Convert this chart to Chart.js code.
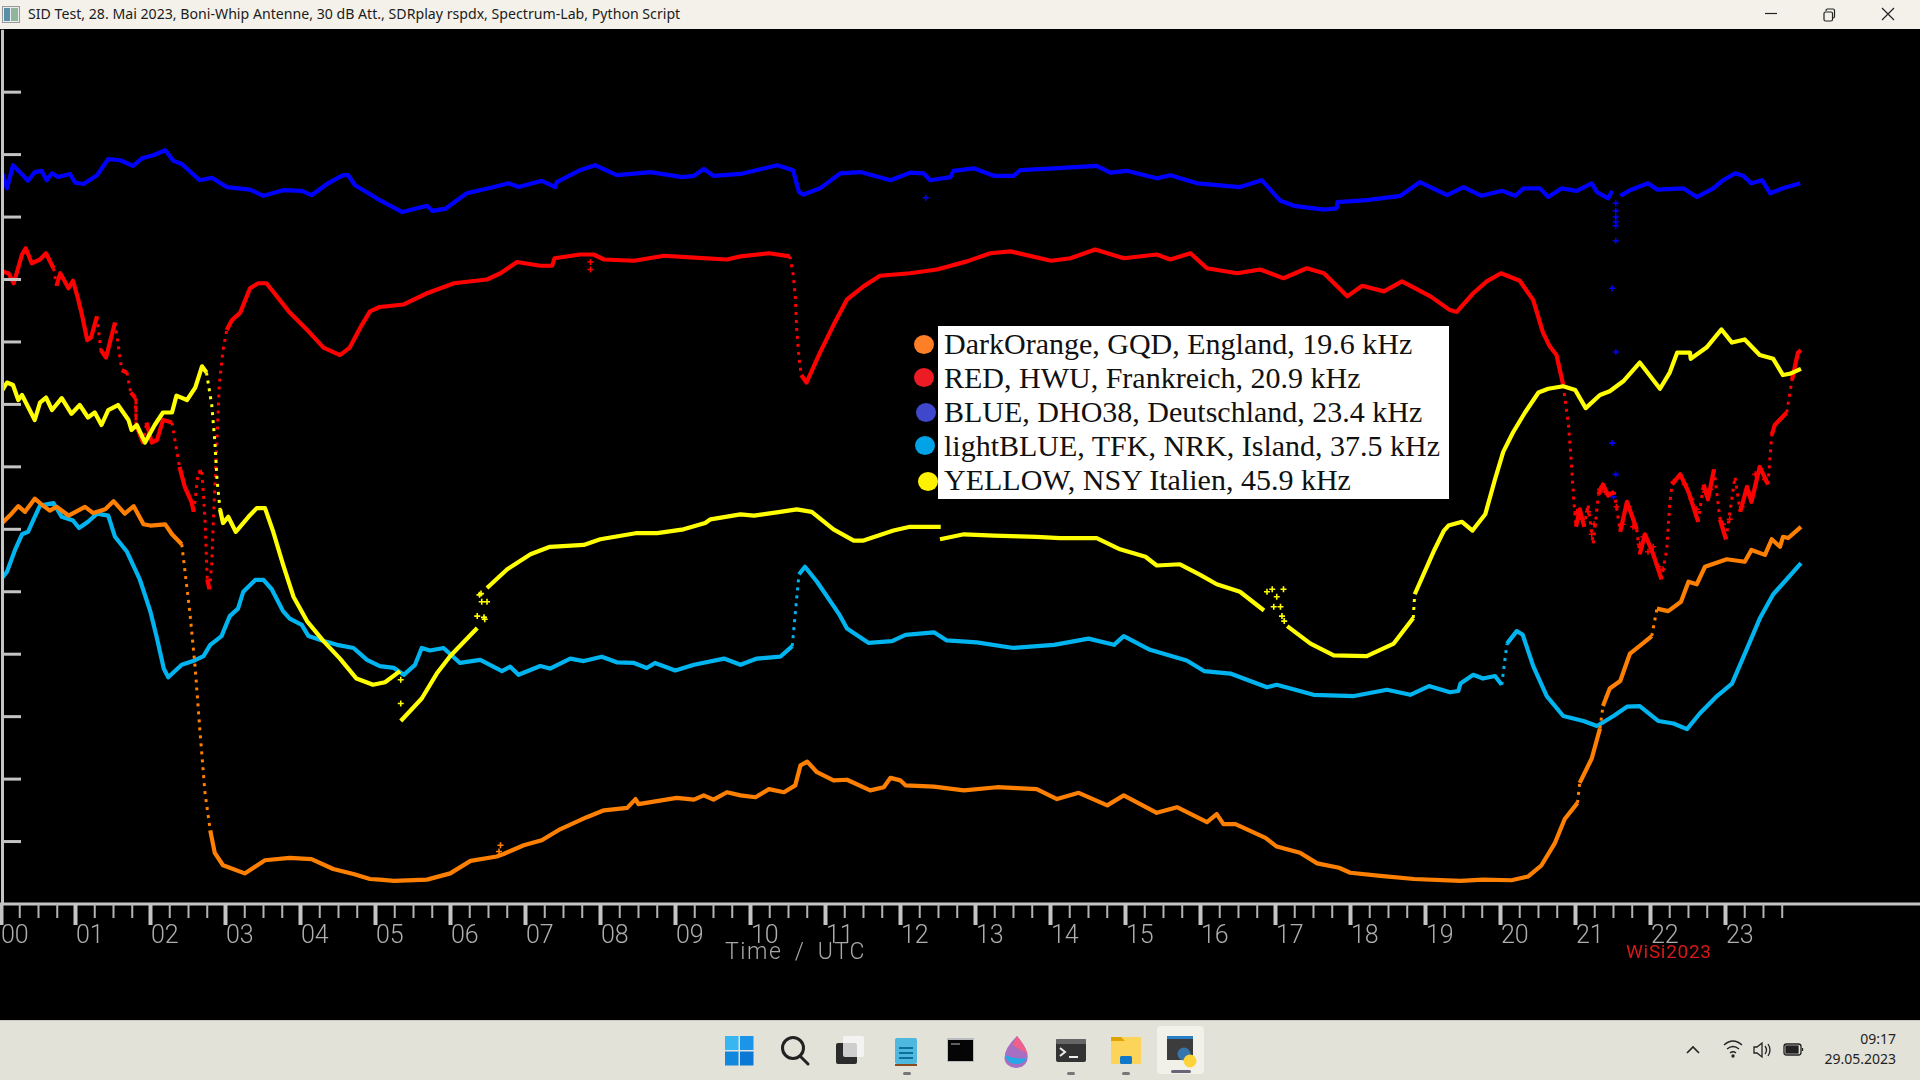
<!DOCTYPE html>
<html><head><meta charset="utf-8"><title>SID Test</title>
<script src="https://cdn.jsdelivr.net/npm/chart.js@4"></script>
<style>
html,body{margin:0;padding:0;width:1920px;height:1080px;background:#000;overflow:hidden}
canvas{position:absolute;left:0;top:0}
.abs{position:absolute;white-space:nowrap}
#titlebar{position:absolute;left:0;top:0;width:1920px;height:29px;background:#f3f1ea}
#titletext{left:28px;top:4px;font:14.15px/20px "Noto Sans",sans-serif;color:#1c1c1c}
#taskbar{position:absolute;left:0;top:1020px;width:1920px;height:60px;background:#e2e2d8;border-top:1px solid #c9c9c0;box-sizing:border-box}
#legendbox{position:absolute;left:938px;top:326px;width:511px;height:173px;background:#fff}
.lt{position:absolute;left:944px;font:30px/34px "Liberation Serif",serif;color:#111;white-space:nowrap}
.ld{position:absolute;width:20px;height:19px;border-radius:50%}
#axtitle{left:725px;top:938px;font:300 23px/28px Roboto,sans-serif;letter-spacing:1.6px;word-spacing:5px;color:#a8a8a8}
#wisi{left:1626px;top:941px;font:400 19px/22px Roboto,sans-serif;letter-spacing:.7px;color:#d81818}
#clock{position:absolute;right:24px;top:1029px;text-align:right;font:14px/20px "Noto Sans",sans-serif;color:#222}
svg.ic{position:absolute}
</style></head><body>
<canvas id="c" width="1920" height="1080"></canvas>
<div id="legendbox"></div>
<div class="abs" id="axtitle">Time / UTC</div>
<div class="abs" id="wisi">WiSi2023</div>
<div id="titlebar">
<svg class="ic" style="left:2px;top:6px" width="18" height="17"><rect x=".5" y=".5" width="17" height="16" fill="#e8eef0" stroke="#999"/><rect x="2" y="2" width="6" height="13" fill="#5a8fa8"/><rect x="9" y="2" width="7" height="13" fill="#8fb59a"/></svg>
<div class="abs" id="titletext">SID Test, 28. Mai 2023, Boni-Whip Antenne, 30 dB Att., SDRplay rspdx, Spectrum-Lab, Python Script</div>
<svg class="ic" style="left:1760px;top:4px" width="140" height="22" fill="none" stroke="#222" stroke-width="1.2"><path d="M5 9.5H17"/><rect x="64" y="8" width="8.5" height="9" rx="1.5"/><path d="M66 7V6.5q0-1.500 1.500-1.500h5.500q1.500 0 1.500 1.500v6q0 1.500-1.500 1.500"/><path d="M122 4L134 16M134 4L122 16"/></svg>
</div>
<div id="taskbar"></div>
<svg class="ic" style="left:0;top:1020px" width="1920" height="60">
<g><rect x="725" y="16" width="13.500" height="14" fill="#37b6f2"/><rect x="740" y="16" width="13.500" height="14" fill="#1c95e8"/><rect x="725" y="31.500" width="13.500" height="14" fill="#1187dd"/><rect x="740" y="31.500" width="13.500" height="14" fill="#0a78d4"/></g>
<g fill="none" stroke="#222" stroke-width="3"><circle cx="793" cy="28" r="10.500"/><path d="M800 36L808 44" stroke-linecap="round"/></g>
<g><rect x="836" y="23" width="21" height="21" rx="2" fill="#2b2b2b"/><rect x="843" y="16" width="21" height="21" rx="2" fill="#f7f7f7" opacity=".8"/></g>
<g><rect x="895" y="18" width="22" height="26" rx="2" fill="#4fb8de"/><rect x="895" y="44" width="22" height="2" fill="#8a4b1f"/><path d="M899 28H913M899 33H913M899 38H913" stroke="#0f6f9c" stroke-width="2"/><rect x="903" y="52" width="8" height="3" rx="1.500" fill="#777"/></g>
<g><rect x="947" y="18" width="27" height="24" fill="#b8bcc0"/><rect x="948" y="20" width="25" height="21" fill="#050505"/><path d="M951 24H960" stroke="#bbb"/></g>
<path d="M1017 16q12 14 10.500 22a11.500 10 0 0 1-23 0q0-10 12.500-22z" fill="#a76fc2"/><path d="M1005 35a11.500 10 0 0 0 22 3q-10 2-22-3z" fill="#25a8e8"/><path d="M1017 16q8 10 10.500 18q-10-6-15-9z" fill="#f0608a"/>
<g><rect x="1056" y="19" width="30" height="23" rx="2" fill="#333"/><rect x="1056" y="19" width="30" height="5" rx="1" fill="#666"/><path d="M1060 28l5 4-5 4" stroke="#eee" stroke-width="2" fill="none"/><path d="M1069 37H1078" stroke="#eee" stroke-width="2"/><rect x="1067" y="52" width="8" height="3" rx="1.500" fill="#777"/></g>
<g><rect x="1111" y="17" width="30" height="27" rx="1" fill="#fcd45a"/><path d="M1111 17h10l4 4h-14z" fill="#e0a400"/><rect x="1120" y="36" width="12" height="8" rx="1.500" fill="#0f78c8"/><rect x="1122" y="52" width="8" height="3" rx="1.500" fill="#777"/></g>
<g><rect x="1157" y="6" width="47" height="48" rx="4" fill="#f1f1ea"/><rect x="1167" y="16" width="26" height="24" fill="#3c3c3c"/><rect x="1167" y="16" width="26" height="3" fill="#2a7fc4"/><circle cx="1184" cy="34" r="6.500" fill="#3776ab"/><circle cx="1190" cy="41" r="6.500" fill="#ffd43b"/><rect x="1171" y="50" width="20" height="3" rx="1.500" fill="#667"/></g>
<path d="M1687 33l6-6 6 6" fill="none" stroke="#222" stroke-width="1.600"/>
<g fill="none" stroke="#222" stroke-width="1.300"><path d="M1724 25q9-8 18 0M1727 29q6-5 12 0M1730 33q3-2.500 6 0"/><circle cx="1733" cy="36" r="1" fill="#222"/><path d="M1754 27h3l5-4v14l-5-4h-3zM1765 26q3 4 0 8M1768 24q4 6 0 12"/><rect x="1784" y="24" width="17" height="11" rx="2.500"/><rect x="1786" y="26" width="12" height="7" fill="#222"/><path d="M1802.500 28v3"/></g>
</svg>
<div id="clock">09:17<br>29.05.2023</div>
<script>
const hourLabels = ['00','01','02','03','04','05','06','07','08','09','10','11','12','13','14','15','16','17','18','19','20','21','22','23'];
const legendLabels = ['DarkOrange, GQD, England, 19.6 kHz','RED, HWU, Frankreich, 20.9 kHz','BLUE, DHO38, Deutschland, 23.4 kHz','lightBLUE, TFK, NRK, Island, 37.5 kHz','YELLOW, NSY Italien, 45.9 kHz'];
const legendDotColors = ['#ff7f27','#ed1c24','#3f48cc','#00a2e8','#fff200'];

const blueHours = [.01,.08,.16,.25,.36,.45,.54,.61,.68,.76,.92,.99,1.10,1.28,1.43,1.59,1.76,1.88,2.03,2.19,2.30,2.41,2.65,2.81,3.01,3.32,3.50,3.76,4.01,4.14,4.36,4.56,4.63,4.72,4.90,5.05,5.35,5.68,5.75,5.92,6.21,6.50,6.77,6.90,7.21,7.39,7.41,7.72,7.92,8.21,8.66,9.08,9.24,9.37,9.50,9.86,10.35,10.56,10.59,10.64,10.70,10.92,11.19,11.46,11.86,12.12,12.30,12.39,12.66,12.70,12.97,13.24,13.50,13.59,14.04,14.61,14.79,15.01,15.41,15.59,15.95,16.52,16.81,17.06,17.24,17.64,17.81,17.82,18.21,18.66,18.92,19.28,19.50,19.74,20.01,20.19,20.30,20.52,20.63,20.81,21.01,21.21,21.28,21.43,21.48,21.53,21.59,21.72,21.96,22.08,22.43,22.61,22.83,22.96,23.12,23.23,23.34,23.48,23.59,23.76,23.99];
const blueValues = [11.72,11.46,11.83,11.72,11.58,11.72,11.74,11.59,11.70,11.64,11.69,11.55,11.53,11.67,11.93,11.91,11.82,11.94,11.99,12.07,11.90,11.85,11.59,11.63,11.48,11.44,11.34,11.43,11.42,11.35,11.54,11.67,11.67,11.51,11.38,11.27,11.08,11.18,11.10,11.13,11.38,11.46,11.54,11.48,11.58,11.48,11.56,11.75,11.83,11.67,11.72,11.64,11.66,11.77,11.66,11.69,11.83,11.75,11.62,11.40,11.36,11.46,11.70,11.72,11.59,11.71,11.70,11.59,11.64,11.74,11.78,11.66,11.66,11.75,11.78,11.82,11.71,11.74,11.62,11.67,11.54,11.48,11.59,11.26,11.18,11.12,11.14,11.24,11.27,11.34,11.56,11.35,11.48,11.34,11.42,11.34,11.46,11.46,11.32,11.46,11.42,11.54,11.40,11.30,11.42,null,11.34,11.43,11.54,11.44,11.46,11.32,11.46,11.59,11.70,11.66,11.54,11.59,11.38,11.46,11.54];
const blueStrayHours = [12.33,21.53,21.53,21.53,21.53,21.53,21.53,21.48,21.53,21.48,21.53,21.50];
const blueStrayValues = [11.31,11.22,11.10,11.00,10.92,10.86,10.62,9.86,8.84,7.38,6.88,6.52];

const redHours = [.01,.10,.17,.28,.33,.41,.52,.60,.70,.74,.79,.90,.96,1.03,1.08,1.15,1.20,1.28,1.33,1.40,1.52,1.61,1.68,1.73,1.79,1.80,1.90,1.94,2.01,2.08,2.16,2.28,2.33,2.38,2.45,2.54,2.57,2.63,2.68,2.72,2.75,2.78,2.81,2.83,2.85,2.88,2.91,2.96,3.01,3.08,3.19,3.32,3.43,3.54,3.85,4.10,4.30,4.52,4.65,4.81,4.92,5.05,5.37,5.68,6.04,6.48,6.66,6.88,7.19,7.35,7.38,7.72,7.90,8.04,8.44,8.84,9.24,9.68,9.86,10.24,10.52,10.56,10.59,10.61,10.64,10.67,10.74,10.92,11.10,11.28,11.50,11.72,12.12,12.48,12.88,13.19,13.46,14.00,14.26,14.59,14.97,15.41,15.59,15.86,16.08,16.48,16.79,17.10,17.41,17.64,17.95,18.15,18.44,18.68,19.06,19.32,19.41,19.63,19.81,20.00,20.25,20.43,20.56,20.65,20.74,20.83,20.90,20.94,20.97,21.00,21.05,21.11,21.16,21.23,21.30,21.36,21.43,21.51,21.59,21.68,21.81,21.85,21.92,22.03,22.14,22.21,22.25,22.28,22.39,22.50,22.63,22.70,22.76,22.84,22.92,23.00,23.12,23.19,23.28,23.34,23.45,23.56,23.61,23.65,23.81,23.88,23.96,24.00];
const redValues = [10.13,10.10,9.94,10.40,10.50,10.26,10.32,10.42,10.18,9.90,10.10,9.86,9.98,9.68,9.43,9.03,9.07,9.41,8.87,8.75,9.31,8.55,8.51,8.19,8.11,7.67,7.37,7.71,7.39,7.43,7.75,7.71,7.35,7.00,6.68,6.44,6.28,6.92,6.92,6.16,5.20,5.04,5.44,6.08,6.64,7.43,8.31,8.87,9.19,9.35,9.47,9.86,9.94,9.94,9.47,9.17,8.91,8.79,8.91,9.27,9.49,9.56,9.60,9.78,9.94,10.00,10.10,10.28,10.22,10.22,10.34,10.40,10.40,10.32,10.30,10.38,10.35,10.32,10.37,10.42,10.37,10.10,9.75,9.19,8.75,8.47,8.35,8.83,9.27,9.68,9.89,10.06,10.10,10.16,10.29,10.42,10.45,10.30,10.34,10.48,10.34,10.40,10.32,10.42,10.18,10.10,10.16,10.02,10.18,10.10,9.73,9.90,9.81,9.97,9.73,9.51,9.48,9.78,9.97,10.10,9.98,9.67,9.15,8.93,8.79,8.31,7.67,7.04,6.48,6.04,6.32,6.04,6.40,5.76,6.56,6.72,6.54,6.60,5.96,6.44,6.00,5.60,5.92,5.60,5.20,5.68,6.40,6.72,6.88,6.60,6.12,6.72,6.48,6.96,6.16,5.84,6.84,6.28,6.68,6.44,7.00,6.72,7.51,7.67,7.87,8.39,8.83,8.87];
const redStrayHours = [7.86,7.86,21.01,21.08,21.16,21.21,21.24,21.32,21.39,21.54,21.62,21.70,21.76,21.85,21.90,21.96,22.03,22.10,22.16,22.30,22.45,22.54,22.61,22.72,22.79,22.96,23.05,23.21,23.32,23.39,23.52];
const redStrayValues = [10.28,10.16,6.28,6.16,6.28,5.92,6.08,6.64,6.60,6.36,6.08,6.36,6.04,5.76,5.88,5.64,5.72,5.40,5.36,6.76,6.72,6.48,6.32,6.60,6.64,6.08,6.16,6.36,6.56,6.88,6.80];

const yellowHours = [0,.08,.16,.23,.28,.45,.52,.60,.68,.81,.94,1.05,1.16,1.25,1.34,1.43,1.56,1.70,1.74,1.81,1.92,2.05,2.16,2.28,2.34,2.48,2.59,2.68,2.74,2.81,2.85,2.88,2.92,2.96,3.03,3.13,3.30,3.41,3.52,3.63,3.76,3.90,4.08,4.30,4.52,4.74,4.96,5.12,5.32,5.325,5.33,5.61,5.81,5.99,6.35,6.40,6.48,6.75,7.06,7.32,7.77,7.99,8.48,8.75,9.10,9.39,9.46,9.86,10.04,10.39,10.61,10.81,11.10,11.37,11.50,11.90,12.12,12.53,12.525,12.52,12.84,13.24,13.81,14.12,14.61,14.92,15.26,15.41,15.72,15.99,16.21,16.52,16.84,16.90,17.15,17.46,17.77,18.21,18.57,18.83,18.85,19.10,19.24,19.30,19.48,19.62,19.79,19.92,20.03,20.16,20.32,20.50,20.63,20.83,20.99,21.13,21.32,21.45,21.63,21.85,22.12,22.25,22.35,22.52,22.53,22.74,22.94,23.08,23.25,23.45,23.63,23.76,23.85,24.00];
const yellowValues = [8.19,8.35,8.31,8.07,8.15,7.75,8.03,8.11,7.91,8.10,7.85,7.99,7.79,7.87,7.67,7.91,7.99,7.75,7.59,7.67,7.39,7.67,7.87,7.87,8.14,8.07,8.27,8.61,8.51,7.99,7.43,6.80,6.32,6.10,6.20,5.96,6.20,6.34,6.34,5.96,5.44,4.92,4.53,4.21,3.93,3.61,3.51,3.55,3.73,null,2.93,3.29,3.69,3.97,4.42,null,5.06,5.36,5.60,5.72,5.75,5.84,5.94,5.94,6.00,6.10,6.16,6.24,6.22,6.28,6.32,6.28,6.00,5.82,5.82,5.98,6.04,6.04,null,5.84,5.92,5.90,5.88,5.86,5.86,5.68,5.56,5.42,5.44,5.27,5.12,5.00,4.70,null,4.45,4.17,3.98,3.97,4.17,4.58,4.96,5.64,5.98,6.06,6.12,5.98,6.24,6.80,7.24,7.55,7.87,8.19,8.25,8.29,8.23,7.94,8.15,8.21,8.37,8.67,8.25,8.51,8.83,8.83,8.73,8.91,9.20,8.99,9.04,8.79,8.73,8.47,8.49,8.57];
const yellowStrayHours = [5.33,5.33,6.35,6.44,6.45,6.38,6.40,6.48,6.41,16.88,16.95,17.01,17.10,16.97,17.06,17.08,17.11];
const yellowStrayValues = [3.59,3.21,4.61,4.59,4.56,4.95,4.97,4.84,4.84,5.00,5.04,4.92,5.04,4.76,4.76,4.61,4.53];

const lightBlueHours = [0,.08,.19,.28,.36,.45,.52,.70,.81,.96,1.04,1.16,1.28,1.43,1.52,1.68,1.85,1.99,2.08,2.17,2.23,2.41,2.56,2.70,2.79,2.94,3.05,3.16,3.23,3.39,3.50,3.61,3.76,3.85,4.01,4.10,4.28,4.48,4.70,4.88,5.05,5.24,5.37,5.52,5.61,5.72,5.90,6.12,6.39,6.68,6.79,6.90,7.19,7.32,7.59,7.77,8.01,8.21,8.44,8.61,8.72,8.99,9.24,9.64,9.86,10.08,10.39,10.55,10.59,10.64,10.72,10.88,11.17,11.28,11.57,11.88,12.06,12.44,12.61,13.01,13.50,14.04,14.50,14.84,14.97,15.32,15.81,16.04,16.39,16.88,17.01,17.50,18.04,18.48,18.79,19.04,19.32,19.43,19.46,19.63,19.76,19.92,20.01,20.08,20.21,20.29,20.43,20.61,20.83,21.10,21.28,21.50,21.68,21.85,22.10,22.30,22.48,22.65,22.88,23.08,23.28,23.45,23.63,23.81,24.00];
const lightBlueValues = [5.20,5.32,5.68,5.92,5.96,6.20,6.38,6.42,6.20,6.14,6.02,6.12,6.25,6.22,5.88,5.64,5.20,4.69,4.25,3.77,3.63,3.83,3.89,3.97,4.15,4.29,4.61,4.73,5.00,5.19,5.19,5.04,4.69,4.57,4.47,4.29,4.22,4.15,4.10,3.91,3.81,3.78,3.67,3.83,4.10,4.06,4.10,3.86,3.91,3.73,3.80,3.67,3.81,3.77,3.93,3.89,3.96,3.87,3.86,3.78,3.86,3.74,3.83,3.93,3.83,3.93,3.96,4.13,4.65,5.28,5.40,5.16,4.65,4.41,4.18,4.21,4.31,4.35,4.22,4.19,4.10,4.15,4.25,4.15,4.29,4.07,3.90,3.73,3.69,3.47,3.51,3.35,3.33,3.43,3.35,3.49,3.39,3.41,3.53,3.67,3.61,3.65,3.51,4.17,4.37,4.31,3.81,3.33,3.01,2.93,2.85,3.01,3.16,3.17,2.93,2.89,2.80,3.05,3.33,3.53,4.09,4.57,4.96,5.20,5.46];

const orangeHours = [0,.14,.23,.32,.45,.54,.65,.74,.90,1.12,1.23,1.39,1.50,1.65,1.77,1.90,1.99,2.19,2.28,2.41,2.45,2.52,2.59,2.65,2.72,2.79,2.85,2.96,3.25,3.52,3.85,4.14,4.43,4.70,4.92,5.05,5.24,5.68,5.99,6.26,6.61,6.70,6.97,7.21,7.46,7.81,8.04,8.35,8.46,8.50,9.01,9.24,9.37,9.50,9.68,9.86,10.06,10.24,10.44,10.59,10.66,10.75,10.88,11.10,11.28,11.59,11.77,11.86,11.99,12.06,12.44,12.84,13.28,13.81,14.08,14.37,14.75,14.97,15.41,15.68,16.08,16.21,16.30,16.46,16.86,17.01,17.32,17.55,17.84,17.99,18.39,18.84,19.46,19.76,20.14,20.36,20.54,20.72,20.85,21.02,21.05,21.21,21.32,21.36,21.45,21.59,21.72,21.90,22.01,22.08,22.23,22.40,22.50,22.61,22.72,23.01,23.25,23.34,23.52,23.61,23.72,23.76,23.83,24.00];
const orangeValues = [6.08,6.25,6.37,6.28,6.49,6.40,6.30,6.36,6.22,6.36,6.26,6.32,6.45,6.25,6.37,6.08,6.06,6.08,5.92,5.76,5.36,4.65,3.77,2.81,1.78,1.18,.82,.62,.49,.70,.74,.72,.56,.48,.40,.39,.37,.39,.49,.69,.76,.80,.94,1.02,1.20,1.39,1.50,1.54,1.68,1.60,1.70,1.67,1.74,1.67,1.79,1.74,1.71,1.84,1.79,1.90,2.22,2.28,2.11,1.98,1.99,1.82,1.87,2.02,1.98,1.90,1.88,1.82,1.87,1.84,1.68,1.78,1.58,1.74,1.46,1.55,1.31,1.44,1.28,1.28,1.06,.92,.82,.65,.58,.50,.45,.40,.37,.39,.38,.44,.62,.98,1.36,1.62,1.94,2.33,2.81,3.17,3.45,3.57,4.01,4.18,4.29,4.73,4.69,4.84,5.16,5.12,5.40,5.52,5.48,5.67,5.59,5.84,5.72,5.88,5.86,6.04];
const orangeStrayHours = [6.66,6.64];
const orangeStrayValues = [.94,.84];

const minorStep = 0.25, lastMinor = 23.75, yMax = 14, xMax = 25.587;

const zip = (h, v) => h.map((x, i) => ({x, y: v[i]}));
const steep = c => {
  const dx = Math.abs(c.p1.x - c.p0.x), dy = Math.abs(c.p1.y - c.p0.y);
  return dy > 5 * dx && dy > 8;
};
const trace = (label, color, h, v) => ({
  label, data: zip(h, v), showLine: true, borderColor: color, backgroundColor: color,
  borderWidth: 4.2, borderJoinStyle: 'round', pointRadius: 0, spanGaps: false, tension: 0,
  segment: {borderDash: c => steep(c) ? [3, 5] : undefined, borderWidth: c => steep(c) ? 3 : undefined}
});
const strays = (label, color, h, v) => ({
  label, data: zip(h, v), showLine: false, pointStyle: 'cross', pointRadius: 3,
  borderColor: color, backgroundColor: color, pointBorderWidth: 1.6
});

const axisColor = '#c4c4c4';
const axisPlugin = {
  id: 'axisMarks',
  afterDatasetsDraw(chart) {
    const {ctx, scales: {x, y}, chartArea: a} = chart;
    ctx.save();
    ctx.strokeStyle = axisColor;
    ctx.lineWidth = 3;
    ctx.beginPath();
    ctx.moveTo(2.5, a.top); ctx.lineTo(2.5, a.bottom); ctx.stroke();
    for (let v = 1; v < yMax; v++) {
      const p = y.getPixelForValue(v);
      ctx.beginPath(); ctx.moveTo(2, p); ctx.lineTo(21, p); ctx.stroke();
    }
    ctx.beginPath(); ctx.moveTo(0, a.bottom); ctx.lineTo(1920, a.bottom); ctx.stroke();
    ctx.lineWidth = 2;
    ctx.strokeStyle = '#b4b4b4';
    for (let t = minorStep; t <= lastMinor; t += minorStep) {
      if (Number.isInteger(t)) continue;
      const p = x.getPixelForValue(t);
      ctx.beginPath(); ctx.moveTo(p, a.bottom); ctx.lineTo(p, a.bottom + 14); ctx.stroke();
    }
    ctx.restore();
  }
};

new Chart(document.getElementById('c'), {
  type: 'scatter',
  data: {datasets: [
    strays('NSY stray', '#ffff00', yellowStrayHours, yellowStrayValues),
    trace('YELLOW, NSY', '#ffff00', yellowHours, yellowValues),
    strays('GQD stray', '#ff8000', orangeStrayHours, orangeStrayValues),
    trace('DarkOrange, GQD', '#ff8000', orangeHours, orangeValues),
    trace('lightBLUE, TFK', '#00b4f0', lightBlueHours, lightBlueValues),
    strays('HWU stray', '#ff0000', redStrayHours, redStrayValues),
    trace('RED, HWU', '#ff0000', redHours, redValues),
    strays('DHO38 stray', '#0000ff', blueStrayHours, blueStrayValues),
    trace('BLUE, DHO38', '#0000ff', blueHours, blueValues)
  ]},
  options: {
    responsive: false, animation: false, events: [],
    layout: {autoPadding: false, padding: {top: 29.7, left: 0, right: 0, bottom: 0}},
    plugins: {legend: {display: false}, title: {display: false}, tooltip: {enabled: false}},
    scales: {
      x: {
        type: 'linear', min: 0, max: xMax,
        afterFit: s => { s.height = 176; s.paddingLeft = 0; s.paddingRight = 0; },
        border: {display: false},
        grid: {
          drawOnChartArea: false, drawTicks: true, tickLength: 21, tickWidth: 4,
          tickColor: c => c.tick && c.tick.value < hourLabels.length ? axisColor : 'transparent'
        },
        ticks: {
          stepSize: 1, autoSkip: false, maxRotation: 0, includeBounds: false, align: 'start', padding: -3,
          color: '#aeaeae', font: {family: 'Roboto', size: 25, weight: '300'},
          callback: v => hourLabels[v] ?? ''
        }
      },
      y: {
        type: 'linear', min: 0, max: yMax,
        afterFit: s => { s.width = 1; },
        border: {display: false}, grid: {display: false},
        ticks: {display: false, stepSize: 1}
      }
    }
  },
  plugins: [axisPlugin]
});

const textTops = [336, 370, 404, 438, 472];
const dotLefts = [914, 914, 916, 915, 918];
const dotTops = [335, 368, 403, 436, 472];
legendLabels.forEach((t, i) => {
  const el = document.createElement('div');
  el.className = 'lt'; el.textContent = t; el.style.top = (textTops[i] - 9) + 'px';
  document.body.appendChild(el);
  const d = document.createElement('div');
  d.className = 'ld'; d.style.left = dotLefts[i] + 'px'; d.style.top = dotTops[i] + 'px';
  d.style.background = legendDotColors[i];
  document.body.appendChild(d);
});
</script>
</body></html>
